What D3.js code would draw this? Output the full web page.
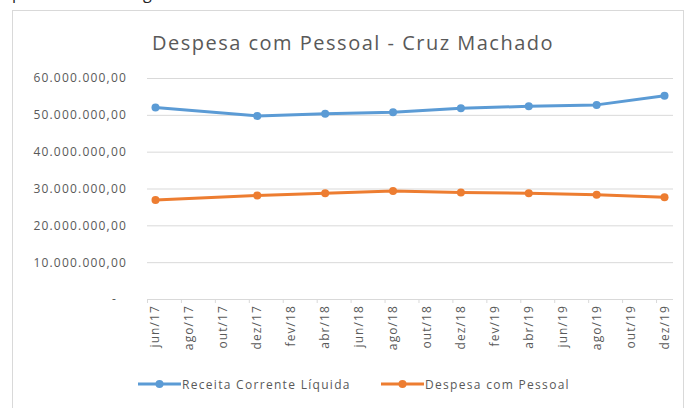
<!DOCTYPE html>
<html>
<head>
<meta charset="utf-8">
<script src="https://cdn.jsdelivr.net/npm/d3@7"></script>
<style>
  body { margin: 0; background: #fff; }
  #svg-container { width: 694px; height: 408px; }
  text { font-family: "Open Sans", "Noto Sans", sans-serif; fill: #595959; }
</style>
</head>
<body>
<div id="svg-container"></div>
<script>
////////////////////////////  Data  ////////////////////////////////
// month index counted from jun/17
const monthLabels = ["jun/17", "ago/17", "out/17", "dez/17", "fev/18", "abr/18", "jun/18", "ago/18",
  "out/18", "dez/18", "fev/19", "abr/19", "jun/19", "ago/19", "out/19", "dez/19"];
const pointMonths = [0, 6, 10, 14, 18, 22, 26, 30];
const receita = [52000000, 49700000, 50300000, 50700000, 51800000, 52300000, 52700000, 55200000];
const despesa = [26900000, 28100000, 28700000, 29300000, 28900000, 28700000, 28300000, 27600000];
const yTicks = [0, 10000000, 20000000, 30000000, 40000000, 50000000, 60000000];

const seriesNames = ["Receita Corrente Líquida", "Despesa com Pessoal"];
const colors = ["#5B9BD5", "#ED7D31"];

////////////////////////////  Init  ///////////////////////////////
const width = 694;
const height = 408;
const margin = { top: 78, right: 21, bottom: 109, left: 147 };

const svg = d3.select("#svg-container").append("svg")
  .attr("width", width).attr("height", height);

// chart frame
svg.append("rect")
  .attr("x", 12.5).attr("y", 10.5)
  .attr("width", 671).attr("height", 410)
  .attr("fill", "#fff").attr("stroke", "#D9D9D9");

// descenders of the clipped text line above the chart
svg.append("text").attr("x", 12).attr("y", -1).style("fill", "#222")
  .style("font-size", "16px").text("p");
svg.append("text").attr("x", 143).attr("y", -1).style("fill", "#222")
  .style("font-size", "16px").text("g");

const xScale = d3.scaleLinear().domain([-0.5, 30.5]).range([margin.left, width - margin.right]);
const yScale = d3.scaleLinear().domain([0, 60000000]).range([height - margin.bottom, margin.top]);

const fmt = d3.formatLocale({ decimal: ",", thousands: ".", grouping: [3], currency: ["", ""] }).format(",.2f");

// title
svg.append("text")
  .attr("x", 353).attr("y", 50)
  .attr("text-anchor", "middle")
  .style("font-size", "20px")
  .style("letter-spacing", "1.5px")
  .text("Despesa com Pessoal - Cruz Machado");

// y grid + labels
const yAxis = d3.axisLeft(yScale)
  .tickValues(yTicks)
  .tickSize(-(width - margin.left - margin.right))
  .tickPadding(20)
  .tickFormat((d) => (d === 0 ? "-" : fmt(d)));

const gy = svg.append("g")
  .attr("class", "y-axis")
  .attr("transform", `translate(${margin.left}, 0)`)
  .call(yAxis);
gy.select(".domain").remove();
gy.selectAll("line").attr("stroke", "#D9D9D9");
gy.selectAll("text")
  .style("font-size", "12px")
  .style("letter-spacing", "1.2px")
  .style("fill", "#595959")
  .attr("dx", (d) => (d === 0 ? -10 : 0));

// x axis
const tickPos = d3.range(16).map((i) => -0.5 + 2 * i);
const xAxis = d3.axisBottom(xScale).tickValues(tickPos).tickSize(4).tickFormat("");
const gx = svg.append("g")
  .attr("class", "x-axis")
  .attr("transform", `translate(0, ${height - margin.bottom})`)
  .call(xAxis);
gx.select(".domain").attr("stroke", "#D9D9D9").attr("d", `M${margin.left},0.5H${width - margin.right}`);
gx.selectAll("line").attr("stroke", "#D9D9D9");

svg.selectAll(".x-label")
  .data(monthLabels)
  .enter()
  .append("text")
  .attr("class", "x-label")
  .attr("transform", (d, i) => `translate(${xScale(i * 2) + 4}, ${height - margin.bottom + 6}) rotate(-90)`)
  .attr("text-anchor", "end")
  .style("font-size", "12px")
  .style("letter-spacing", "1.1px")
  .text((d) => d);

// lines
const seriesData = [receita, despesa].map((vals) => vals.map((v, i) => ({ m: pointMonths[i], v: v })));
const line = d3.line().x((d) => xScale(d.m)).y((d) => yScale(d.v));

seriesData.forEach((s, k) => {
  svg.append("path")
    .datum(s)
    .attr("d", line)
    .attr("fill", "none")
    .attr("stroke", colors[k])
    .attr("stroke-width", 3)
    .attr("stroke-linejoin", "round");

  svg.selectAll(".dot-" + k)
    .data(s)
    .enter()
    .append("circle")
    .attr("cx", (d) => xScale(d.m))
    .attr("cy", (d) => yScale(d.v))
    .attr("r", 4)
    .attr("fill", colors[k]);
});

// legend
const legendX = [138, 381];
seriesNames.forEach((name, k) => {
  const g = svg.append("g").attr("transform", `translate(${legendX[k]}, 384)`);
  g.append("line").attr("x1", 0).attr("x2", 43).attr("y1", 0).attr("y2", 0)
    .attr("stroke", colors[k]).attr("stroke-width", 3);
  g.append("circle").attr("cx", 21.5).attr("cy", 0).attr("r", 4).attr("fill", colors[k]);
  g.append("text").attr("x", 44).attr("y", 4.5)
    .style("font-size", "12px")
    .style("letter-spacing", "1.3px")
    .text(name);
});
</script>
</body>
</html>
